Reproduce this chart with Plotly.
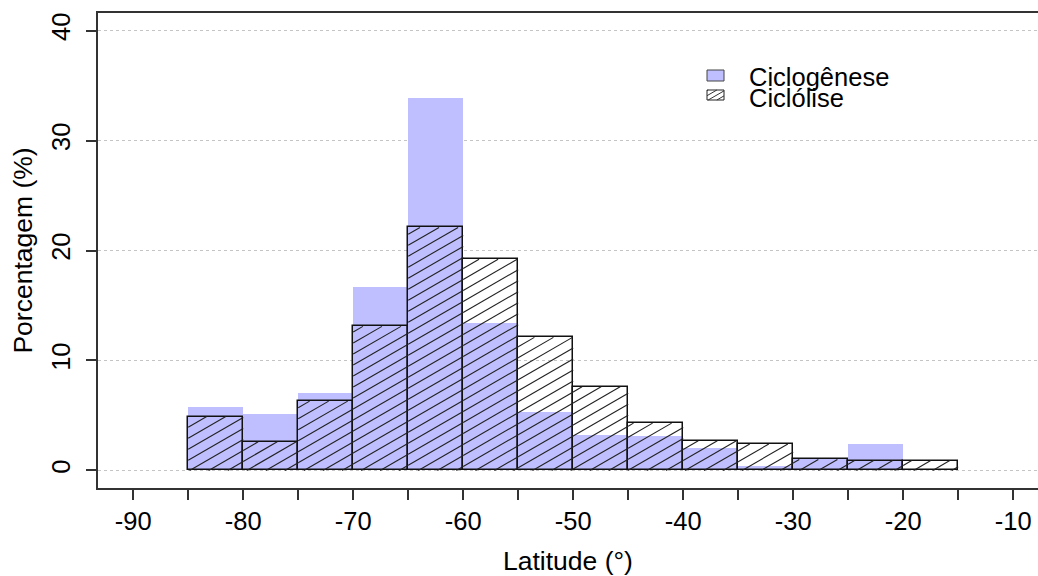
import math
import numpy as np
import plotly.graph_objects as go

# Histogram bins (left edges, 5-degree width) and percentages per bin
bin_left = [-85, -80, -75, -70, -65, -60, -55, -50, -45, -40, -35, -30, -25, -20]
bin_width = 5
ciclogenese = [5.8, 5.1, 7.0, 16.7, 33.9, 13.4, 5.3, 3.2, 3.1, 2.0, 0.4, 1.0, 2.4, 0.0]
ciclolise = [4.9, 2.6, 6.3, 13.1, 22.1, 19.2, 12.1, 7.6, 4.3, 2.7, 2.4, 1.0, 0.9, 0.9]

x_tick_vals = list(range(-90, -5, 5))
x_tick_text = [str(v) if v % 10 == 0 else "" for v in x_tick_vals]
y_tick_vals = [0, 10, 20, 30, 40]

series_names = ["Ciclogênese", "Ciclólise"]

# Figure geometry
FIG_W, FIG_H = 1038, 576
M_L, M_R, M_T, M_B = 98, 0, 13, 88
PLOT_W = FIG_W - M_L - M_R
PLOT_H = FIG_H - M_T - M_B
X_MIN = -93.2
PX_PER_X = 11.0
X_MAX = X_MIN + PLOT_W / PX_PER_X
Y_MIN, Y_MAX = -1.6, 41.6
PX_PER_Y = PLOT_H / (Y_MAX - Y_MIN)

BLUE = "#BFBFFF"
FRAME = "#333333"
FONT = "Liberation Sans, Arial, sans-serif"
TICK_SIZE = 25.5
TITLE_SIZE = 26.5
LEGEND_SIZE = 25.5

centers = [b + bin_width / 2 for b in bin_left]

# Hatching: parallel lines at 30 degrees on screen, ~11 px apart vertically
HATCH_ANGLE = 30.0
slope = math.tan(math.radians(HATCH_ANGLE)) * PX_PER_X / PX_PER_Y
hatch_step = 11.0 / PX_PER_Y


def hatch_segments(x0, x1, y0, y1, step):
    """Clip the family y = slope*x + c (c multiple of step) to a rectangle."""
    segs = []
    if y1 <= y0:
        return segs
    k_lo = math.ceil((y0 - slope * x1) / step)
    k_hi = math.floor((y1 - slope * x0) / step)
    for k in range(k_lo, k_hi + 1):
        c = k * step
        xa = max(x0, (y0 - c) / slope)
        xb = min(x1, (y1 - c) / slope)
        if xb - xa > 1e-9:
            segs.append(((xa, slope * xa + c), (xb, slope * xb + c)))
    return segs


hx, hy = [], []
for left, h in zip(bin_left, ciclolise):
    for (xa, ya), (xb, yb) in hatch_segments(left, left + bin_width, 0.0, h, hatch_step):
        hx += [xa, xb, None]
        hy += [ya, yb, None]

fig = go.Figure()

fig.add_trace(go.Bar(
    x=centers, y=ciclogenese, width=bin_width,
    name=series_names[0],
    marker=dict(color=BLUE, line=dict(width=0)),
    showlegend=False,
))
fig.add_trace(go.Bar(
    x=centers, y=ciclolise, width=bin_width,
    name=series_names[1],
    marker=dict(color="rgba(0,0,0,0)", line=dict(color="#111111", width=1.5)),
    showlegend=False,
))
fig.add_trace(go.Scatter(
    x=hx, y=hy, mode="lines",
    line=dict(color="#222222", width=1.1),
    hoverinfo="skip", showlegend=False,
))


# Legend drawn in data coordinates converted from screen offsets
def px_to_x(px):
    return X_MIN + (px - M_L) / PX_PER_X


def px_to_y(py):
    return Y_MAX - (py - M_T) / PX_PER_Y


shapes = []
sw_x0, sw_x1 = px_to_x(707), px_to_x(724)
legend_rows = [(70, 81), (90, 100)]
(b0, b1), (h0, h1) = legend_rows
shapes.append(dict(type="rect", xref="x", yref="y",
                   x0=sw_x0, x1=sw_x1, y0=px_to_y(b1), y1=px_to_y(b0),
                   fillcolor=BLUE, line=dict(color="#444444", width=1)))
shapes.append(dict(type="rect", xref="x", yref="y",
                   x0=sw_x0, x1=sw_x1, y0=px_to_y(h1), y1=px_to_y(h0),
                   fillcolor="white", line=dict(color="#222222", width=1)))
for (xa, ya), (xb, yb) in hatch_segments(sw_x0, sw_x1, px_to_y(h1), px_to_y(h0), 5.0 / PX_PER_Y):
    shapes.append(dict(type="line", xref="x", yref="y", x0=xa, y0=ya, x1=xb, y1=yb,
                       line=dict(color="#333333", width=1)))

annotations = []
for name, (r0, r1), dy in zip(series_names, legend_rows, (1, 3)):
    annotations.append(dict(
        x=px_to_x(747), y=px_to_y((r0 + r1) / 2 + dy), xref="x", yref="y",
        text=name, showarrow=False, xanchor="left", yanchor="middle",
        font=dict(family=FONT, size=LEGEND_SIZE, color="black"),
    ))

fig.update_layout(
    width=FIG_W, height=FIG_H,
    margin=dict(l=M_L, r=M_R, t=M_T, b=M_B, pad=0),
    paper_bgcolor="white", plot_bgcolor="white",
    barmode="overlay", bargap=0,
    font=dict(family=FONT, size=TICK_SIZE, color="black"),
    shapes=shapes, annotations=annotations,
    showlegend=False,
)

fig.update_xaxes(
    range=[X_MIN, X_MAX],
    tickmode="array", tickvals=x_tick_vals, ticktext=x_tick_text,
    ticks="outside", ticklen=10, tickwidth=1.5, tickcolor=FRAME,
    showline=True, linecolor=FRAME, linewidth=1.5, mirror=True,
    showgrid=False, zeroline=False,
    tickfont=dict(family=FONT, size=TICK_SIZE, color="black"),
    title=dict(text="Latitude (°)", font=dict(family=FONT, size=TITLE_SIZE, color="black"), standoff=20),
)
fig.update_yaxes(
    range=[Y_MIN, Y_MAX],
    tickmode="array", tickvals=y_tick_vals,
    ticks="outside", ticklen=10, tickwidth=1.5, tickcolor=FRAME,
    showline=True, linecolor=FRAME, linewidth=1.5, mirror=False,
    showgrid=True, gridcolor="#C4C4C4", gridwidth=1, griddash="dot",
    zeroline=False, tickangle=-90,
    tickfont=dict(family=FONT, size=TICK_SIZE, color="black"),
    ticklabelstandoff=6,
    title=dict(text="Porcentagem (%)", font=dict(family=FONT, size=TITLE_SIZE, color="black"), standoff=7),
)

fig.write_html("out.html")
